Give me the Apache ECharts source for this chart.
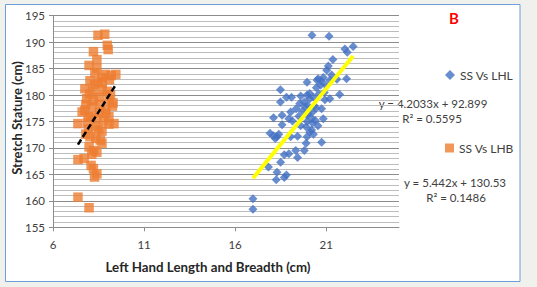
<!DOCTYPE html>
<html>
<head>
<meta charset="utf-8">
<script src="https://cdn.jsdelivr.net/npm/echarts@6/dist/echarts.min.js"></script>
<style>
html,body{margin:0;padding:0;background:#f0f0ec;}
#c{width:537px;height:287px;}
</style>
</head>
<body>
<div id="c"></div>
<script>
// Series: SS Vs LHL (left hand length, cm) -> stretch stature (cm)
const lhlData = [
[20.22,191.3],[21.16,191.1],[22.48,189.2],[22.03,188.7],[22.16,188.1],[21.37,186.7],[21.12,185.5],[21.03,184.7],
[20.84,183.3],[20.56,183.1],[22.12,183.1],[21.59,183.0],[21.2,182.8],[19.95,182.4],[20.75,182.6],[21.0,181.8],
[20.46,181.4],[18.49,181.0],[21.74,180.1],[19.95,180.0],[19.6,179.8],[18.82,179.6],[19.1,179.6],[20.1,179.3],
[20.93,179.1],[18.49,178.7],[19.8,178.7],[19.55,178.4],[20.0,178.0],[20.35,178.0],[19.35,177.4],[20.75,177.4],
[19.05,176.8],[20.25,176.8],[19.95,176.2],[18.58,176.2],[18.11,175.7],[20.84,175.5],[18.95,175.5],[19.95,175.0],
[20.25,174.7],[19.6,174.2],[18.58,174.4],[20.55,174.2],[20.2,173.4],[17.92,172.8],[18.3,172.1],[19.43,172.2],
[19.05,172.1],[18.1,172.3],[19.95,172.1],[20.75,171.1],[19.9,170.9],[19.33,169.5],[19.8,169.5],[18.7,168.7],
[19.43,168.2],[18.5,167.3],[17.83,166.4],[18.3,165.4],[18.82,164.9],[18.26,164.0],[18.7,164.4],[16.98,160.4],
[16.98,158.4],[20.1,180.3],[20.3,179.6],[19.7,177.0],[20.0,176.5],[20.2,175.6],[20.4,175.2],[19.9,174.0],
[20.1,173.0],[20.3,172.6],[19.85,177.8],[20.45,177.5],[19.5,176.0],[20.6,180.2],[20.9,180.5],[21.2,179.3],
[19.15,175.1],[18.4,172.6],[18.2,171.8],[18.95,168.9],[20.5,182.8],[20.7,181.9],[21.3,183.8]
];
// Series: SS Vs LHB (left hand breadth, cm) -> stretch stature (cm)
const lhbData = [
[7.37,160.7],[7.98,158.7],[8.47,191.3],[8.84,191.5],[8.98,189.4],[9.03,188.6],[8.22,188.2],[8.41,186.7],
[7.98,185.6],[8.41,185.0],[9.45,183.9],[8.88,183.9],[8.69,183.3],[9.1,182.9],[8.03,182.7],[8.5,182.5],
[8.28,182.0],[7.75,181.2],[8.17,180.9],[8.69,181.0],[8.98,180.7],[9.16,180.0],[7.85,179.3],[8.22,179.0],
[8.54,179.6],[9.07,179.0],[9.26,177.9],[7.75,177.1],[8.13,177.8],[8.54,176.8],[8.88,176.5],[7.94,175.9],
[8.41,175.5],[9.07,175.9],[8.79,175.1],[7.37,174.6],[9.35,174.6],[9.07,174.5],[7.94,173.6],[8.32,174.0],
[8.69,173.2],[8.03,172.1],[8.35,171.8],[8.69,170.9],[7.98,170.2],[8.22,169.5],[8.41,169.2],[7.37,167.8],
[7.71,168.0],[8.13,168.8],[8.09,166.7],[8.22,166.1],[8.41,165.1],[8.28,164.5],[7.8,178.2],[8.6,178.2],
[8.1,176.0],[8.9,177.2],[7.9,174.8],[8.5,173.5],[8.0,180.2],[8.7,182.3],[9.2,183.7],[8.3,184.2],
[7.8,172.6],[8.6,171.5],[9.3,178.5],[7.6,176.8]
];
const seriesNames = ['SS Vs LHL', 'SS Vs LHB'];
const trendSlopes = [4.2033, 5.442];
const trendIntercepts = [92.899, 130.53];
const r2Values = [0.5595, 0.1486];
const xTicks = [6, 11, 16, 21];
const yTicks = [155, 160, 165, 170, 175, 180, 185, 190, 195];
const panelLabel = 'B';
const xTitle = 'Left Hand Length and Breadth (cm)';
const yTitle = 'Stretch Stature (cm)';

function trend(data, i) {
  const xs = data.map(d => d[0]);
  const x0 = Math.min(...xs), x1 = Math.max(...xs);
  return [[x0, trendSlopes[i] * x0 + trendIntercepts[i]], [x1, trendSlopes[i] * x1 + trendIntercepts[i]]];
}
function eqText(i) {
  return 'y = ' + trendSlopes[i] + 'x + ' + trendIntercepts[i];
}

const chart = echarts.init(document.getElementById('c'), null, {renderer: 'svg'});
const FONT = 'Lato';
chart.setOption({
  animation: false,
  backgroundColor: '#f0f0ec',
  grid: {left: 53, right: 138, top: 15.7, bottom: 59.7},
  xAxis: {
    type: 'value', min: 6, max: 25, interval: 5,
    axisLine: {show: true, lineStyle: {color: '#8c8c8c', width: 1}},
    axisTick: {show: true, length: 4, lineStyle: {color: '#8c8c8c'}},
    axisLabel: {color: '#404040', fontFamily: FONT, fontSize: 11.5, margin: 11, showMaxLabel: false},
    splitLine: {show: false}
  },
  yAxis: {
    type: 'value', min: 155, max: 195, interval: 5,
    axisLine: {show: true, lineStyle: {color: '#8c8c8c', width: 1}},
    axisTick: {show: true, length: 4, lineStyle: {color: '#8c8c8c'}},
    axisLabel: {color: '#404040', fontFamily: FONT, fontSize: 11.5, margin: 8},
    splitLine: {show: true, lineStyle: {color: '#8c8c8c', width: 1}},
    minorTick: {show: false, splitNumber: 5},
    minorSplitLine: {show: true, lineStyle: {color: '#bdbdbd', width: 1}}
  },
  legend: [
    {data: [{name: seriesNames[0], icon: 'diamond'}], left: 440, top: 64, itemWidth: 10, itemHeight: 10,
     textStyle: {fontFamily: FONT, fontSize: 12, color: '#404040'}, itemGap: 4},
    {data: [{name: seriesNames[1], icon: 'rect'}], left: 440, top: 137, itemWidth: 9, itemHeight: 9,
     textStyle: {fontFamily: FONT, fontSize: 12, color: '#404040'}, itemGap: 4}
  ],
  graphic: [
    {type: 'rect', z: -10, silent: true, shape: {x: 5.5, y: 4.5, width: 514.5, height: 277},
     style: {fill: '#ffffff', stroke: '#6f9fd8', lineWidth: 1}},
    {type: 'text', left: 449, top: 10, style: {text: panelLabel, fill: '#ff0000', font: 'bold 15px ' + FONT}},
    {type: 'text', x: 433, y: 103, style: {text: eqText(0), fill: '#404040', font: '11.5px ' + FONT, align: 'center', verticalAlign: 'middle'}},
    {type: 'text', x: 432, y: 118, style: {text: 'R² = ' + r2Values[0], fill: '#404040', font: '11.5px ' + FONT, align: 'center', verticalAlign: 'middle'}},
    {type: 'text', x: 455, y: 182, style: {text: eqText(1), fill: '#404040', font: '11.5px ' + FONT, align: 'center', verticalAlign: 'middle'}},
    {type: 'text', x: 456, y: 197, style: {text: 'R² = ' + r2Values[1], fill: '#404040', font: '11.5px ' + FONT, align: 'center', verticalAlign: 'middle'}},
    {type: 'text', x: 208, y: 267, style: {text: xTitle, fill: '#262626', font: 'bold 13.3px ' + FONT, align: 'center', verticalAlign: 'middle'}},
    {type: 'text', x: 17, y: 118, rotation: Math.PI / 2, style: {text: yTitle, fill: '#262626', font: 'bold 13px ' + FONT, align: 'center', verticalAlign: 'middle'}}
  ],
  series: [
    {name: seriesNames[0], type: 'scatter', symbol: 'diamond', symbolSize: 9, data: lhlData,
     itemStyle: {color: '#4472c4'}, z: 3},
    {name: seriesNames[1], type: 'scatter', symbol: 'rect', symbolSize: 9.5, data: lhbData,
     itemStyle: {color: '#ed7d31'}, z: 3},
    {name: 'trend1', type: 'line', data: trend(lhlData, 0), symbol: 'none',
     lineStyle: {color: '#ffff00', width: 4}, z: 4},
    {name: 'trend2', type: 'line', data: trend(lhbData, 1), symbol: 'none',
     lineStyle: {color: '#000000', width: 2.5, type: [6, 3]}, z: 4}
  ]
});
</script>
</body>
</html>
